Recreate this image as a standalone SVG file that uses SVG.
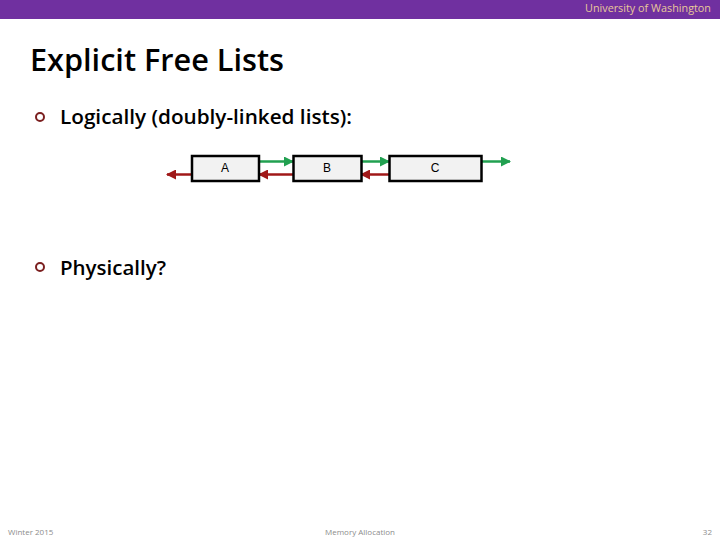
<svg xmlns="http://www.w3.org/2000/svg" width="720" height="540" viewBox="0 0 720 540">
<defs>
<style>
.hdr{font-family:"Open Sans","Liberation Sans",sans-serif;font-size:11px;fill:#E8C89A}
.title{font-family:"Open Sans","Liberation Sans",sans-serif;font-size:30px;font-weight:600;fill:#000}
.bul{font-family:"Open Sans","Liberation Sans",sans-serif;font-size:20px;font-weight:600;fill:#000}
.dot{fill:none;stroke:#7B1F1F;stroke-width:2}
.box{fill:#F2F2F2;stroke:#000;stroke-width:2.5}
.lbl{font-family:"Liberation Sans",Arial,sans-serif;font-size:12px;fill:#000;text-anchor:middle}
.next{stroke:#21A050;stroke-width:2.5;fill:none}
.prev{stroke:#A01818;stroke-width:2.5;fill:none}
.foot{font-family:"Open Sans","Liberation Sans",sans-serif;font-size:8px;fill:#8C8C8C}
</style>
<marker id="ag" viewBox="0 0 10 10" refX="9" refY="5" markerWidth="4" markerHeight="4" orient="auto"><path d="M0,0L10,5L0,10z" fill="#21A050"/></marker>
<marker id="ar" viewBox="0 0 10 10" refX="9" refY="5" markerWidth="4" markerHeight="4" orient="auto"><path d="M0,0L10,5L0,10z" fill="#A01818"/></marker>
</defs>
<rect x="0" y="0" width="720" height="19" fill="#7030A0"/>
<text class="hdr" x="711" y="12" text-anchor="end" textLength="126" lengthAdjust="spacingAndGlyphs">University of Washington</text>
<text class="title" x="30" y="71" textLength="254" lengthAdjust="spacingAndGlyphs">Explicit Free Lists</text>
<circle class="dot" cx="40" cy="117" r="4"/>
<text class="bul" x="60" y="124" textLength="292" lengthAdjust="spacingAndGlyphs">Logically (doubly-linked lists):</text>
<circle class="dot" cx="40" cy="267" r="4"/>
<text class="bul" x="60" y="275" textLength="106" lengthAdjust="spacingAndGlyphs">Physically?</text>
<g id="connectors">
<line class="prev" x1="192" y1="174.5" x2="167" y2="174.5" marker-end="url(#ar)"/>
<line class="next" x1="259" y1="161.5" x2="293" y2="161.5" marker-end="url(#ag)"/>
<line class="prev" x1="293" y1="174.5" x2="259" y2="174.5" marker-end="url(#ar)"/>
<line class="next" x1="361" y1="161.5" x2="389" y2="161.5" marker-end="url(#ag)"/>
<line class="prev" x1="389" y1="174.5" x2="361" y2="174.5" marker-end="url(#ar)"/>
<line class="next" x1="481" y1="161.5" x2="510" y2="161.5" marker-end="url(#ag)"/>
</g>
<g id="nodeA"><rect class="box" x="192" y="156" width="67" height="25"/><text class="lbl" x="225" y="172">A</text></g>
<g id="nodeB"><rect class="box" x="293.5" y="156" width="68" height="25"/><text class="lbl" x="327" y="172">B</text></g>
<g id="nodeC"><rect class="box" x="389.5" y="156" width="92" height="25"/><text class="lbl" x="435" y="172">C</text></g>
<text class="foot" x="8" y="535">Winter 2015</text>
<text class="foot" x="360" y="535" text-anchor="middle">Memory Allocation</text>
<text class="foot" x="712" y="535" text-anchor="end">32</text>
</svg>
